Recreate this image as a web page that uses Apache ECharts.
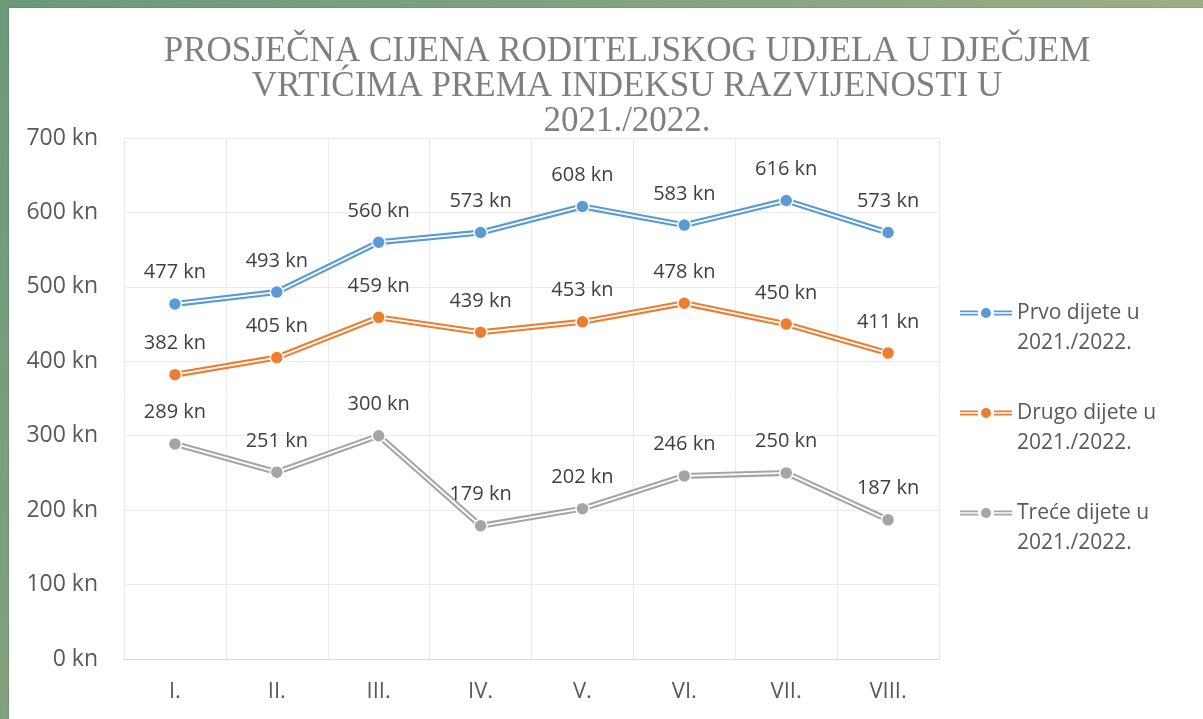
<!DOCTYPE html>
<html>
<head>
<meta charset="utf-8">
<script src="https://cdn.jsdelivr.net/npm/echarts@6/dist/echarts.min.js"></script>
<style>
  html, body { margin:0; padding:0; width:1203px; height:719px; overflow:hidden; }
  body { background: linear-gradient(to right, #6a9a7b 0%, #86a682 60%, #9dad82 100%); position:relative; }
  #leftband { position:absolute; left:0; top:0; width:9px; height:719px; background: linear-gradient(to bottom, #6a9a7b, #82a27f); }
  #paper { position:absolute; left:9px; top:8px; right:0; bottom:0; background:#ffffff; box-shadow: 0 0 2px rgba(0,0,0,0.25); }
  #main { position:absolute; left:0; top:0; width:1203px; height:719px; }
</style>
</head>
<body>
<div id="leftband"></div>
<div id="paper"></div>
<div id="main"></div>
<script>
const titleLines = ['PROSJEČNA CIJENA RODITELJSKOG UDJELA U DJEČJEM', 'VRTIĆIMA PREMA INDEKSU RAZVIJENOSTI U', '2021./2022.'];
const categories = ['I.', 'II.', 'III.', 'IV.', 'V.', 'VI.', 'VII.', 'VIII.'];
const prvo = [477, 493, 560, 573, 608, 583, 616, 573];
const drugo = [382, 405, 459, 439, 453, 478, 450, 411];
const trece = [289, 251, 300, 179, 202, 246, 250, 187];
const seriesNames = ['Prvo dijete u 2021./2022.', 'Drugo dijete u 2021./2022.', 'Treće dijete u 2021./2022.'];
const seriesColors = ['#5b9bd5', '#ed7d31', '#a5a5a5'];
const yMin = 0, yMax = 700, yStep = 100;
const unit = ' kn';

const allData = [prvo, drugo, trece];
const legendIcon = 'path://M0 3.4H18V5.3H0Z M0 6.7H18V8.6H0Z M34 3.4H52V5.3H34Z M34 6.7H52V8.6H34Z M26 1A5 5 0 1 1 26 11A5 5 0 1 1 26 1Z';
const sansFont = 'Open Sans';

const series = [];
allData.forEach(function (d, i) {
  series.push({
    name: seriesNames[i], type: 'line', data: d, symbol: 'none',
    lineStyle: { color: seriesColors[i], width: 6 },
    itemStyle: { color: seriesColors[i] },
    z: 2, silent: true
  });
  series.push({
    name: seriesNames[i] + ' (inner)', type: 'line', data: d, symbol: 'none',
    lineStyle: { color: '#ffffff', width: 1.8 },
    itemStyle: { color: '#ffffff' },
    z: 3, silent: true
  });
  series.push({
    name: seriesNames[i], type: 'line', data: d, symbol: 'circle', symbolSize: 13,
    lineStyle: { opacity: 0 },
    itemStyle: { color: seriesColors[i], borderColor: '#ffffff', borderWidth: 1.5 },
    label: {
      show: true, position: 'top', distance: 14,
      formatter: function (p) { return p.value + unit; },
      fontFamily: sansFont, fontSize: 20, color: '#404040'
    },
    z: 4
  });
});

const chart = echarts.init(document.getElementById('main'), null, { renderer: 'canvas' });
chart.setOption({
  animation: false,
  backgroundColor: 'transparent',
  graphic: [{
    type: 'text', x: 627, y: 34, z: 10,
    style: {
      text: titleLines.join('\n'),
      align: 'center', verticalAlign: 'top', textAlign: 'center', textVerticalAlign: 'top',
      fontFamily: 'Liberation Serif', fontSize: 35, lineHeight: 35,
      fill: '#7f7f7f'
    }
  }],
  grid: { left: 124, right: 264, top: 138, bottom: 60, containLabel: false },
  legend: {
    orient: 'vertical', left: 955, top: 263,
    itemWidth: 52, itemHeight: 10, itemGap: 10,
    selectedMode: false,
    data: seriesNames.map(function (n) { return { name: n, icon: legendIcon }; }),
    formatter: function (n) { return '\n' + n.replace(' 2021', '\n2021'); },
    itemStyle: { borderWidth: 0 },
    textStyle: { fontFamily: sansFont, fontSize: 21, color: '#595959', lineHeight: 30 }
  },
  xAxis: {
    type: 'category', data: categories, boundaryGap: true,
    axisLine: { show: true, lineStyle: { color: '#d9d9d9', width: 1 } },
    axisTick: { show: false },
    axisLabel: { margin: 22, fontFamily: sansFont, fontSize: 22, color: '#595959' },
    splitLine: { show: true, lineStyle: { color: '#ebebeb', width: 1 } }
  },
  yAxis: {
    type: 'value', min: yMin, max: yMax, interval: yStep,
    axisLine: { show: false }, axisTick: { show: false },
    axisLabel: { margin: 26, fontFamily: sansFont, fontSize: 23, color: '#595959', formatter: function (v) { return v + unit; } },
    splitLine: { show: true, lineStyle: { color: '#ebebeb', width: 1 } }
  },
  series: series
});
</script>
</body>
</html>
